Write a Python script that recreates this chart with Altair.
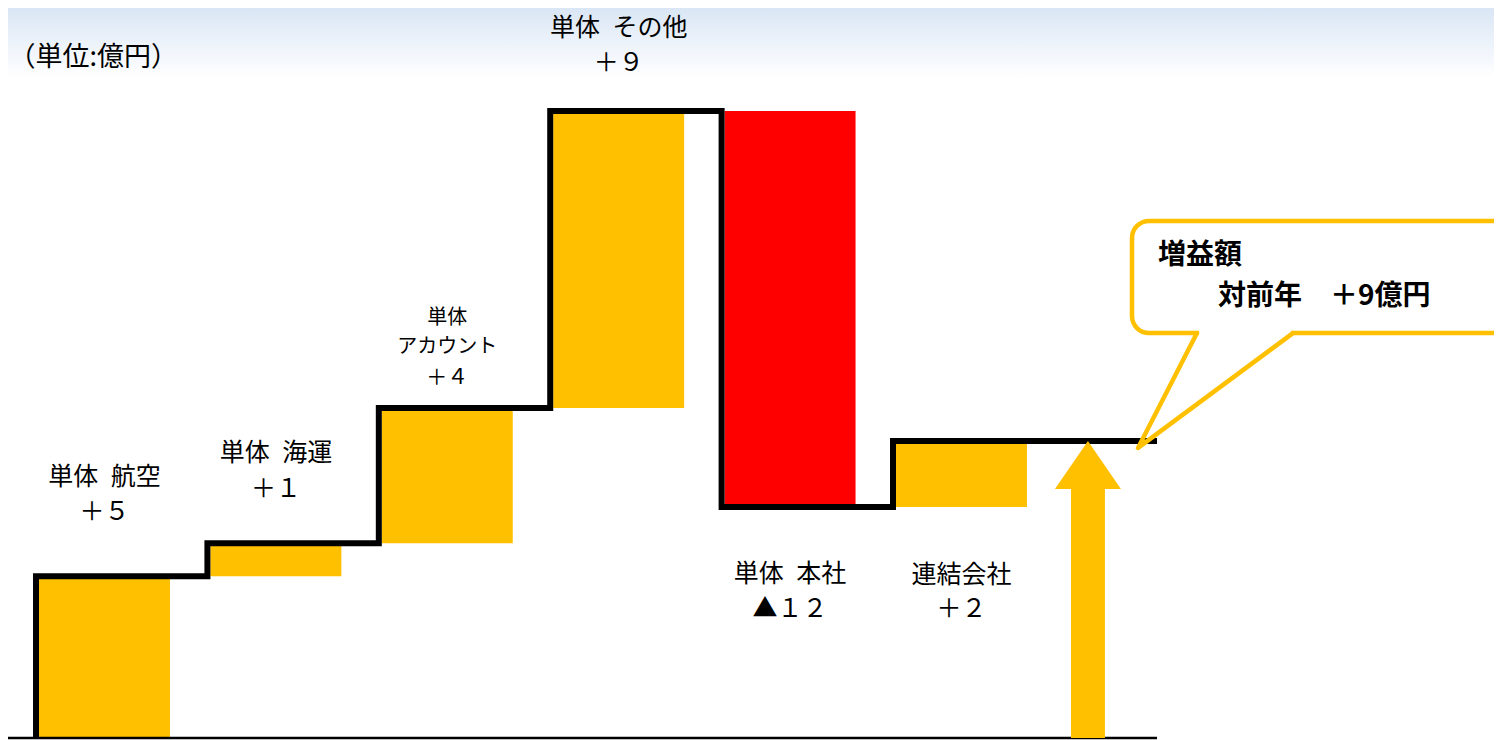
import altair as alt
import pandas as pd

# ---------------- data ----------------
categories = ["単体 航空", "単体 海運", "単体 アカウント", "単体 その他", "単体 本社", "連結会社"]
deltas = [4.9, 1.0, 4.1, 9.0, -12.0, 2.0]
total = 9.0

label_text = ["単体\u2002航空", "＋５", "単体\u2002海運", "＋１", "単体", "アカウント", "＋４",
              "単体\u2002その他", "＋９", "単体\u2002本社", "▲１２", "連結会社", "＋２"]
label_slot = [0, 0, 1, 1, 2, 2, 2, 3, 3, 4, 4, 5, 5]
label_level = [7.91, 6.85, 8.64, 7.55, 12.73, 11.85, 10.91, 21.51, 20.45, 4.97, 3.91, 4.94, 3.91]
label_size = [25, 25, 25, 25, 20, 20, 21, 25, 25, 25, 25, 25, 25]

unit_text = "（単位:億円）"
callout_lines = ["増益額", "対前年　＋9億円"]

# ---------------- layout ----------------
W, H = 1486, 740
X_DOM = [-0.181, 8.489]
Y_DOM = [-0.303, 22.121]
BAR_W = 0.764
LINE_OFF = 0.0175
LINE_END = 6.523
ARROW_X, SHAFT_HW, HEAD_HW, HEAD_H = 6.12, 0.099, 0.1925, 1.455
GRAD_BOTTOM = 20.0
BOX_X, BOX_X2, BOX_Y, BOX_Y2 = 6.377, 8.8, 12.27, 15.67
TAIL_X = [6.756, 6.412, 7.316]
TAIL_Y = [12.27, 8.79, 12.27]
CALLOUT_POS = [(6.529, 14.62), (6.879, 13.36)]
UNIT_POS = (-0.178, 20.606)

YELLOW = "#FFC000"
RED = "#FF0000"
FONT = "Noto Sans CJK JP"

xs = alt.Scale(domain=X_DOM, nice=False, zero=False)
ys = alt.Scale(domain=Y_DOM, nice=False, zero=False)


def X(f):
    return alt.X(f, type="quantitative", scale=xs, axis=None)


def Y(f):
    return alt.Y(f, type="quantitative", scale=ys, axis=None)


# ---------------- derived tables ----------------
ends, starts, run = [], [], 0.0
for d in deltas:
    starts.append(run)
    run += d
    ends.append(run)

bars = pd.DataFrame({
    "cat": categories,
    "x0": [i for i in range(len(deltas))],
    "x1": [i + BAR_W for i in range(len(deltas))],
    "lo": [min(s, e) for s, e in zip(starts, ends)],
    "hi": [max(s, e) for s, e in zip(starts, ends)],
    "sign": ["増" if d >= 0 else "減" for d in deltas],
})

step = pd.DataFrame({
    "i": list(range(len(deltas) + 2)),
    "x": [0 - LINE_OFF] + [i - LINE_OFF for i in range(len(deltas))] + [LINE_END],
    "y": [0.0] + ends + [ends[-1]],
})

labels = pd.DataFrame({
    "t": label_text,
    "x": [s + BAR_W / 2 for s in label_slot],
    "y": label_level,
    "s": label_size,
})

gradient = alt.Gradient(
    gradient="linear",
    stops=[alt.GradientStop(color="#dae6f5", offset=0), alt.GradientStop(color="#ffffff", offset=1)],
    x1=0, x2=0, y1=0, y2=1,
)

bg = alt.Chart(pd.DataFrame({"x": [X_DOM[0]], "x2": [X_DOM[1]], "y": [Y_DOM[1]], "y2": [GRAD_BOTTOM]})).mark_rect(
    fill=gradient, strokeWidth=0
).encode(x=X("x"), x2="x2", y=Y("y"), y2="y2")

bar_layer = alt.Chart(bars).mark_rect().encode(
    x=X("x0"), x2="x1", y=Y("lo"), y2="hi",
    color=alt.Color("sign:N", scale=alt.Scale(domain=["増", "減"], range=[YELLOW, RED]), legend=None),
)

baseline = alt.Chart(pd.DataFrame({"x": [X_DOM[0]], "x2": [LINE_END], "y": [0.0]})).mark_rule(
    color="black", strokeWidth=2.5
).encode(x=X("x"), x2="x2", y=Y("y"))

step_layer = alt.Chart(step).mark_line(
    interpolate="step-after", color="black", strokeWidth=6, strokeJoin="miter"
).encode(x=X("x"), y=Y("y"), order="i:Q")

shaft = alt.Chart(pd.DataFrame({"x": [ARROW_X - SHAFT_HW], "x2": [ARROW_X + SHAFT_HW],
                                "y": [0.0], "y2": [total - HEAD_H]})).mark_rect(color=YELLOW).encode(
    x=X("x"), x2="x2", y=Y("y"), y2="y2")

head = alt.Chart(pd.DataFrame({
    "x": [ARROW_X - HEAD_HW, ARROW_X, ARROW_X + HEAD_HW],
    "y": [total - HEAD_H, total, total - HEAD_H],
    "y2": [total - HEAD_H] * 3,
})).mark_area(color=YELLOW, interpolate="linear").encode(x=X("x"), y=Y("y"), y2="y2")

box = alt.Chart(pd.DataFrame({"x": [BOX_X], "x2": [BOX_X2], "y": [BOX_Y], "y2": [BOX_Y2]})).mark_rect(
    fill="white", stroke=YELLOW, strokeWidth=4.5, cornerRadius=17
).encode(x=X("x"), x2="x2", y=Y("y"), y2="y2")

gap = alt.Chart(pd.DataFrame({"x": [TAIL_X[0] + 0.012], "x2": [TAIL_X[2] - 0.012], "y": [BOX_Y]})).mark_rule(
    color="white", strokeWidth=7
).encode(x=X("x"), x2="x2", y=Y("y"))

tail = alt.Chart(pd.DataFrame({"i": [0, 1, 2], "x": TAIL_X, "y": TAIL_Y})).mark_line(
    color=YELLOW, strokeWidth=4.5, strokeJoin="round", strokeCap="round"
).encode(x=X("x"), y=Y("y"), order="i:Q")

label_layer = alt.Chart(labels).mark_text(font=FONT, color="black", align="center", baseline="middle").encode(
    x=X("x"), y=Y("y"), text="t:N", size=alt.Size("s:Q", scale=None, legend=None)
)

unit_layer = alt.Chart(pd.DataFrame({"x": [UNIT_POS[0]], "y": [UNIT_POS[1]], "t": [unit_text]})).mark_text(
    font=FONT, fontSize=27, color="black", align="left", baseline="middle"
).encode(x=X("x"), y=Y("y"), text="t:N")

callout_text = alt.Chart(pd.DataFrame({
    "x": [p[0] for p in CALLOUT_POS], "y": [p[1] for p in CALLOUT_POS], "t": callout_lines,
})).mark_text(font=FONT, fontSize=28, fontWeight="bold", color="black", align="left", baseline="middle").encode(
    x=X("x"), y=Y("y"), text="t:N")

chart = alt.layer(
    bg, bar_layer, baseline, step_layer, shaft, head, box, gap, tail, label_layer, unit_layer, callout_text
).properties(
    width=W, height=H, autosize=alt.AutoSizeParams(type="none"), padding=0
).configure_view(stroke=None)

chart.save("out.html", embed_options={"renderer": "svg", "actions": False})
